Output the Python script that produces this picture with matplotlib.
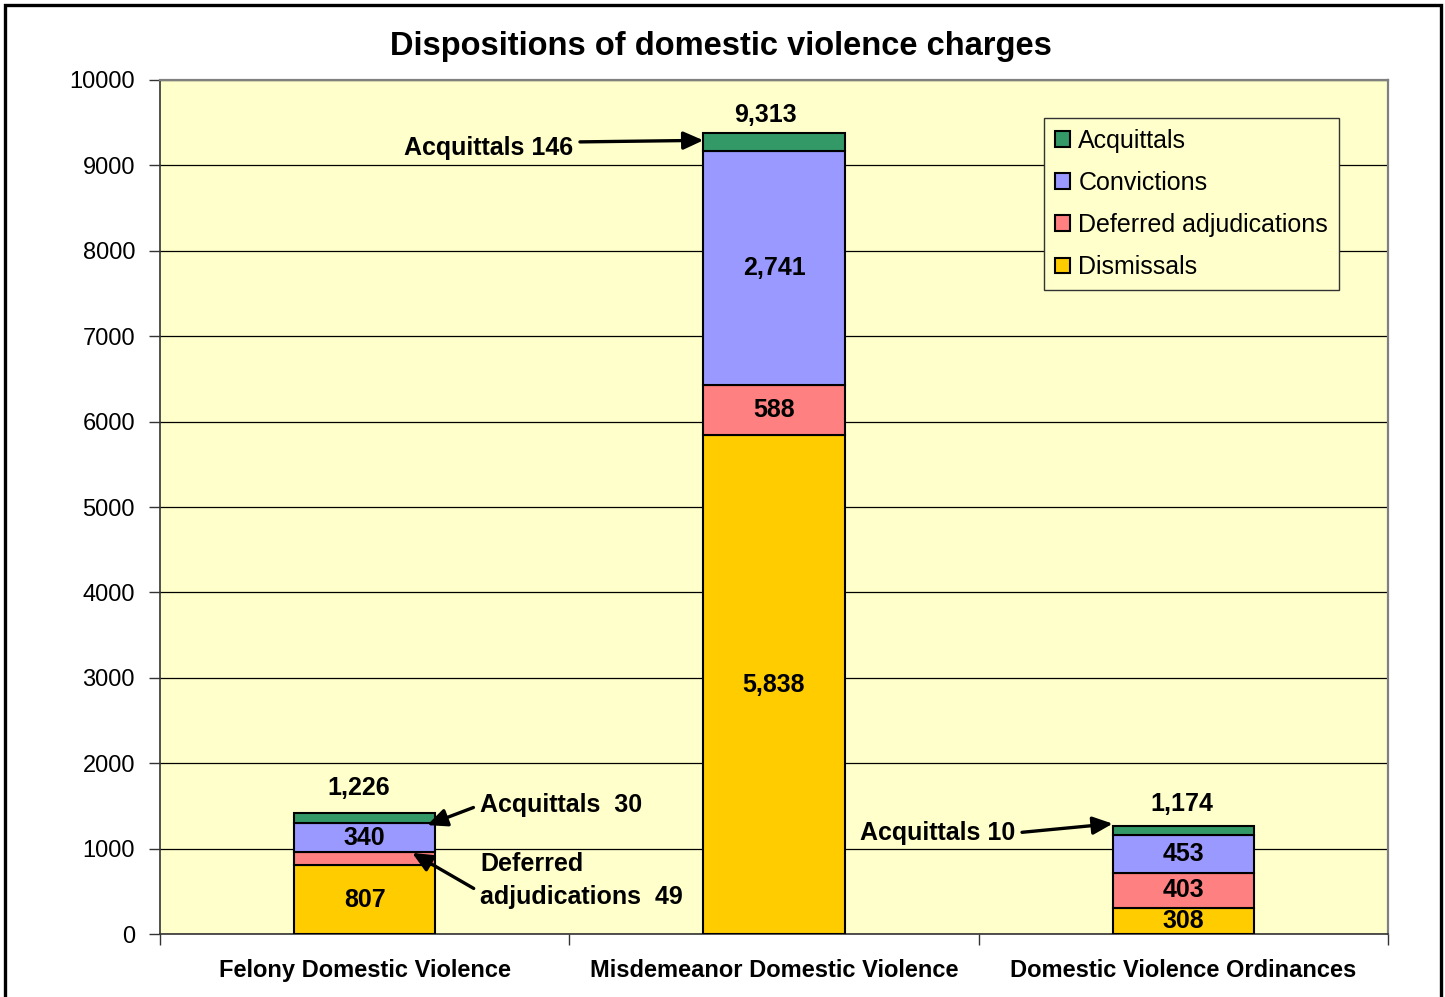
import numpy as np
import matplotlib
matplotlib.use('Agg')
import matplotlib.pyplot as plt
from matplotlib.patches import Rectangle

plt.rcParams['font.family'] = ['Liberation Sans', 'DejaVu Sans']

# data
categories = ['Felony Domestic Violence', 'Misdemeanor Domestic Violence', 'Domestic Violence Ordinances']
series = ['Dismissals', 'Deferred adjudications', 'Convictions', 'Acquittals']
# segment heights as drawn in the chart
dismissals = [807, 5838, 308]
deferred = [148, 588, 403]
convictions = [340, 2741, 453]
acquittals = [124, 211, 98]
# printed labels
totals = ['1,226', '9,313', '1,174']
dismissal_labels = ['807', '5,838', '308']
deferred_labels = ['', '588', '403']
conviction_labels = ['340', '2,741', '453']
acq_callouts = ['Acquittals  30', 'Acquittals 146', 'Acquittals 10']
deferred_callout = 'Deferred\nadjudications  49'

colors = ['#FFCC00', '#FF8080', '#9999FF', '#339966']

fig = plt.figure(figsize=(14.45, 9.97), dpi=100)
ax = fig.add_axes([160/1445, 63/997, 1228/1445, 854/997])
ax.set_facecolor('#FFFFCC')

x = np.arange(len(categories))
w = 0.345
stack = [dismissals, deferred, convictions, acquittals]
bottoms = np.zeros(len(categories))
bars = []
for vals, name, c in zip(stack, series, colors):
    b = ax.bar(x, vals, w, bottom=bottoms, color=c, edgecolor='black', lw=1.5, label=name, zorder=3)
    bars.append(b)
    bottoms = bottoms + np.array(vals)
tops = bottoms

# labels inside segments
base = np.zeros(len(categories))
for vals, labs in zip(stack[:3], [dismissal_labels, deferred_labels, conviction_labels]):
    for i, (v, lab) in enumerate(zip(vals, labs)):
        if lab:
            ax.text(x[i], base[i] + v/2, lab, ha='center', va='center', fontsize=18,
                    fontweight='bold', zorder=5)
    base = base + np.array(vals)

# totals above bars
tot_off = [(-4, 18), (-6, 13), (-1, 16)]
for i, t in enumerate(totals):
    ax.annotate(t, (x[i], tops[i]), xytext=tot_off[i], textcoords='offset points',
                ha='center', va='center', fontsize=18, fontweight='bold', zorder=5)

arrow = dict(arrowstyle='-|>,head_length=0.8,head_width=0.36', mutation_scale=15,
             color='black', lw=2.4, shrinkA=3, shrinkB=0)
acq_base = np.array(dismissals) + np.array(deferred) + np.array(convictions)

# felony acquittals
ax.annotate(acq_callouts[0], (x[0] + w/2 - 0.02, acq_base[0] - 20), xytext=(0.282, 1511),
            ha='left', va='center', fontsize=18, fontweight='bold',
            arrowprops=dict(arrow, relpos=(0, 0.5)), zorder=6)
# felony deferred
ax.annotate(deferred_callout, (x[0] + 0.116, dismissals[0] + deferred[0] - 5), xytext=(0.282, 625),
            ha='left', va='center', fontsize=18, fontweight='bold', linespacing=1.5,
            arrowprops=dict(arrow, relpos=(0, 0.3)), zorder=6)
# misdemeanor acquittals
ax.annotate(acq_callouts[1], (x[1] - w/2, acq_base[1] + acquittals[1]*0.6), xytext=(0.509, 9204),
            ha='right', va='center', fontsize=18, fontweight='bold',
            arrowprops=dict(arrow, relpos=(1, 0.75)), zorder=6)
# ordinances acquittals
ax.annotate(acq_callouts[2], (x[2] - w/2, tops[2] + 30), xytext=(1.589, 1183),
            ha='right', va='center', fontsize=18, fontweight='bold',
            arrowprops=dict(arrow, relpos=(1, 0.5)), zorder=6)

ax.set_xlim(-0.5, 2.5)
ax.set_ylim(0, 10000)
ax.set_yticks(np.arange(0, 10001, 1000))
ax.set_yticklabels([str(v) for v in range(0, 10001, 1000)], fontsize=17)
ax.tick_params(axis='y', length=8, width=1, pad=10, color='#333333')
ax.set_xticks([-0.5, 0.5, 1.5, 2.5])
ax.set_xticklabels([])
ax.tick_params(axis='x', which='major', length=8, width=1, color='#333333')
ax.set_xticks(x, minor=True)
ax.set_xticklabels(categories, minor=True, fontsize=17, fontweight='bold')
ax.tick_params(axis='x', which='minor', length=0, pad=18)
ax.yaxis.grid(True, color='black', lw=0.9)
ax.set_axisbelow(True)

for s in ['top', 'right']:
    ax.spines[s].set_color('#808080')
    ax.spines[s].set_linewidth(1.6)
for s in ['left', 'bottom']:
    ax.spines[s].set_color('#333333')
    ax.spines[s].set_linewidth(1.2)

handles = [b for b in bars][::-1]
leg = ax.legend(handles, [h.get_label() for h in handles], loc='upper left',
                bbox_to_anchor=(0.7199, 0.9555), borderaxespad=0, fontsize=18,
                frameon=True, fancybox=False, facecolor='#FFFFCC', edgecolor='#333333',
                framealpha=1, handlelength=0.6, handleheight=0.6, handletextpad=0.35,
                labelspacing=0.73, borderpad=0.42)
leg.get_frame().set_linewidth(1)
leg.set_zorder(7)

fig.text(0.499, 1 - 47/997, 'Dispositions of domestic violence charges', ha='center', va='center',
         fontsize=23.5, fontweight='bold')

fig.patches.append(Rectangle((5/1445, -0.05), 1436/1445, 1 - 5/997 + 0.05, transform=fig.transFigure,
                             fill=False, edgecolor='black', lw=2.4, clip_on=False))

fig.savefig('out.png', dpi=100)
